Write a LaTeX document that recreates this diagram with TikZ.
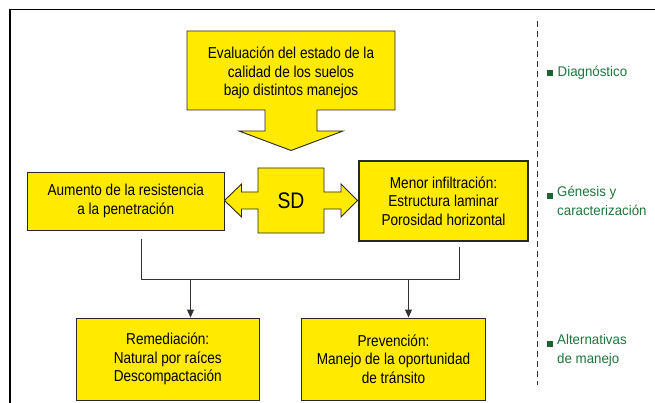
\documentclass[tikz,border=0pt]{standalone}
\usepackage{fontspec}
\setmainfont{Liberation Sans}[FakeStretch=0.86]
\newfontfamily\lblfont{Liberation Sans}[FakeStretch=0.95]
\usetikzlibrary{arrows.meta}
\definecolor{boxyellow}{RGB}{255,234,0}
\definecolor{boxedge}{RGB}{40,40,40}
\definecolor{lblgreen}{RGB}{28,118,58}
\definecolor{sqgreen}{RGB}{30,100,50}
\definecolor{lineg}{RGB}{50,50,50}
\tikzset{
  ybox/.style={draw=boxedge, fill=boxyellow, line width=0.9pt, inner sep=0pt, align=center,
    font=\fontsize{15.8}{18.5}\selectfont},
  yshape/.style={draw=boxedge, fill=boxyellow, line width=0.9pt, line join=miter},
  txt/.style={inner sep=0pt, align=center, font=\fontsize{15.8}{18.5}\selectfont},
  conn/.style={draw=lineg, line width=0.9pt},
  arr/.style={conn, -{Triangle[width=7pt,length=8pt]}},
  lbl/.style={inner sep=0pt, anchor=west, align=left, text=lblgreen, font=\lblfont\fontsize{14}{19.3}\selectfont},
  sq/.style={fill=sqgreen},
  frameline/.style={draw=black, line width=1.3pt},
  sep/.style={draw=lineg, line width=0.8pt, dash pattern=on 6pt off 4pt}
}
\begin{document}
\begin{tikzpicture}[x=1pt, y=-1pt]
\useasboundingbox (0,0) rectangle (655,403);
% frame
\draw[frameline] (655,9.5) -- (10,9.5) -- (10,403);
% top callout
\draw[yshape] (187,31) -- (395,31) -- (395,110) -- (317,110) -- (317,131) -- (343,131) -- (291,150.5)
  -- (239,131) -- (265,131) -- (265,110) -- (187,110) -- cycle;
\node[txt] (eval) at (291,73) {Evaluación del estado de la\\calidad de los suelos\\bajo distintos manejos};
% SD double arrow
\draw[yshape] (258,168) -- (324,168) -- (324,192) -- (341,192) -- (341,184) -- (357.5,200.5) -- (341,217)
  -- (341,209) -- (324,209) -- (324,233) -- (258,233) -- (258,209) -- (241.5,209) -- (241.5,217)
  -- (224.5,200.5) -- (241.5,184) -- (241.5,192) -- (258,192) -- cycle;
\node[txt, font=\fontsize{22.5}{24}\selectfont] (sd) at (291,200.5) {SD};
% side boxes
\node[ybox, minimum width=196.5pt, minimum height=58pt] (res) at (125.75,201)
  {Aumento de la resistencia\\a la penetración};
\node[ybox, line width=1.8pt, minimum width=169pt, minimum height=80pt] (inf) at (443.5,201)
  {Menor infiltración:\\Estructura laminar\\Porosidad horizontal};
% bottom boxes
\node[ybox, minimum width=183.5pt, minimum height=82pt] (rem) at (167.75,359)
  {Remediación:\\Natural por raíces\\Descompactación};
\node[ybox, minimum width=184pt, minimum height=82pt] (prev) at (393.5,359)
  {Prevención:\\Manejo de la oportunidad\\de tránsito};
% connectors
\coordinate (c1) at (141,239);
\coordinate (c2) at (141,279);
\coordinate (c3) at (459,279);
\coordinate (c4) at (459,247);
\draw[conn] (c1) -- (c2) -- (c3) -- (c4);
\coordinate (a1) at (190.5,279);
\coordinate (a2) at (408.5,279);
\draw[arr] (a1) -- (a1 |- rem.north);
\draw[arr] (a2) -- (a2 |- prev.north);
% separator
\coordinate (s1) at (537.5,21);
\coordinate (s2) at (537.5,385);
\draw[sep] (s1) -- (s2);
% labels
\fill[sq] (547,70.3) rectangle (553,76.3);
\node[lbl] (l1) at (557.5,73.3) {Diagnóstico};
\fill[sq] (547,192.7) rectangle (553,198.7);
\node[lbl, anchor=north west] (l2) at (557,185.5) {Génesis y\\caracterización};
\fill[sq] (547,341) rectangle (553,347);
\node[lbl, anchor=north west] (l3) at (557,333.8) {Alternativas\\de manejo};
\end{tikzpicture}
\end{document}
